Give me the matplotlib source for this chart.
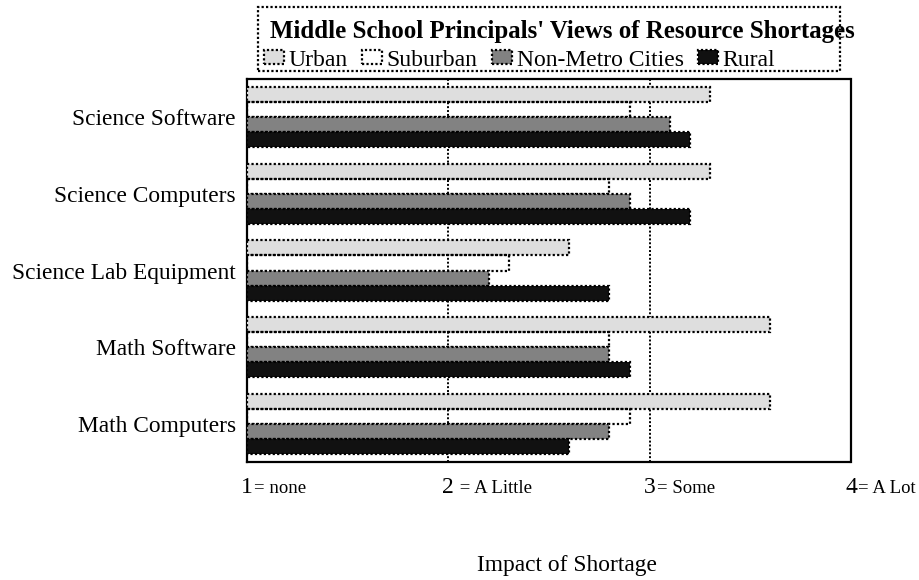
import numpy as np
import matplotlib.pyplot as plt
import matplotlib
from matplotlib.patches import Rectangle
from matplotlib.transforms import blended_transform_factory, offset_copy

matplotlib.rcParams['font.family'] = ['Liberation Serif', 'DejaVu Serif']

categories = ['Science Software', 'Science Computers', 'Science Lab Equipment',
              'Math Software', 'Math Computers']
urban = [3.3, 3.3, 2.6, 3.6, 3.6]
suburban = [2.9, 2.8, 2.3, 2.8, 2.9]
non_metro = [3.1, 2.9, 2.2, 2.8, 2.8]
rural = [3.2, 3.2, 2.8, 2.9, 2.6]
series_names = ['Urban', 'Suburban', 'Non-Metro Cities', 'Rural']
tick_nums = ['1', '2', '3', '4']
tick_words = ['= none', ' = A Little', '= Some', '= A Lot']

colors = ['#dedede', 'none', '#828282', '#111111']
dots = (0, (1, 1))

fig = plt.figure(figsize=(9.19, 5.8), dpi=100)
W, H = 919, 580
ax = fig.add_axes([247 / W, 1 - 462 / H, (851 - 247) / W, (462 - 79) / H])

y = np.arange(len(categories))
bh = 0.196
handles = []
for i, (vals, c) in enumerate(zip([urban, suburban, non_metro, rural], colors)):
    pos = y - 1.5 * bh + i * bh
    b = ax.barh(pos, np.array(vals) - 1, left=1, height=bh, color=c,
                edgecolor='black', linewidth=1.6, linestyle=dots, zorder=3)
    handles.append(b)

ax.set_xlim(1, 4)
ax.set_ylim(len(categories) - 0.5, -0.5)
ax.set_yticks(y)
ax.set_yticklabels(categories, fontsize=16.8)
ax.tick_params(axis='y', length=0, pad=8)
ax.set_xticks([])

for x in [2, 3]:
    ax.axvline(x, color='black', linewidth=1.4, linestyle=dots, zorder=1)

for s in ax.spines.values():
    s.set_linewidth(1.6)
    s.set_linestyle(dots)

# scale labels under the axis: big digit, smaller words after it
trans = blended_transform_factory(ax.transData, ax.transAxes)
for x, n, w in zip([1, 2, 3, 4], tick_nums, tick_words):
    ax.text(x, 0, n, fontsize=17, ha='center', va='baseline',
            transform=offset_copy(trans, fig=fig, x=0, y=-31, units='dots'))
    ax.text(x, 0, w, fontsize=13.5, ha='left', va='baseline',
            transform=offset_copy(trans, fig=fig, x=7, y=-31, units='dots'))

fig.text(567 / W, 1 - 565 / H, 'Impact of Shortage', fontsize=16.8,
         ha='center', va='center')

# legend box with the chart title inside
fig.patches.append(Rectangle((258 / W, 1 - 71 / H), (840 - 258) / W, (71 - 7) / H,
                             transform=fig.transFigure, fill=False,
                             edgecolor='black', linewidth=1.6, linestyle=dots))
fig.text(270 / W, 1 - 38 / H, "Middle School Principals' Views of Resource Shortages",
         fontsize=17.9, fontweight='bold', ha='left', va='baseline')
fig.legend(handles, series_names, ncol=4, frameon=False, fontsize=17,
           loc='center left', bbox_to_anchor=(264 / W, 1 - 60 / H),
           handlelength=0.85, handleheight=0.55, handletextpad=0.2,
           columnspacing=0.6, borderpad=0, borderaxespad=0)

fig.savefig('out.png', dpi=100)
